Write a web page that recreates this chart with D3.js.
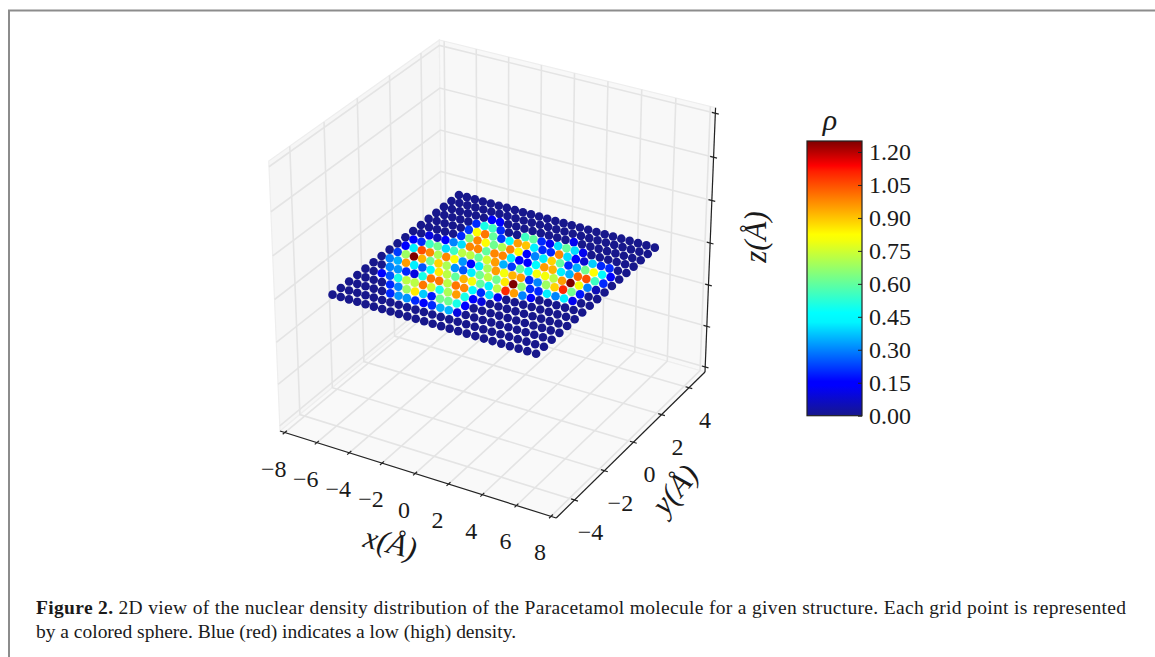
<!DOCTYPE html>
<html>
<head>
<meta charset="utf-8">
<script src="https://cdn.jsdelivr.net/npm/d3@7"></script>
<style>
body { margin: 0; background: #fff; }
svg { display: block; }
text { font-family: "Liberation Serif", serif; fill: #1a1a1a; }
</style>
</head>
<body>
<svg id="chart" width="1155" height="657"></svg>
<script>
// Chart data
var xGrid = [-6,-5.5,-5,-4.5,-4,-3.5,-3,-2.5,-2,-1.5,-1,-0.5,0,0.5,1,1.5,2,2.5,3,3.5,4,4.5,5,5.5,6];
var yGrid = [4,3.5,3,2.5,2,1.5,1,0.5,0,-0.5,-1,-1.5,-2,-2.5,-3,-3.5,-4];
var rho = [
	[0,0,0,0,0,0,0,0,0,0,0,0,0,0,0,0,0,0,0,0,0,0,0,0,0],
	[0,0,0,0,0,0,0,0,0,0,0,0,0,0,0,0,0,0,0,0,0,0,0,0,0],
	[0,0,0,0,0,0,.15,.15,0,0,0,0,0,0,0,0,.12,0,0,0,0,0,0,0,0],
	[0,0,0,0,0,.2,.5,.55,.2,0,0,.55,.6,.2,.12,.4,.6,.4,.12,0,0,0,0,0,0],
	[0,0,0,0,0,.22,.82,1,.6,.22,.45,.95,.9,.42,.2,.2,.98,.4,.15,.08,.38,.2,.2,0,0],
	[0,0,0,0,0,.2,.65,.98,.82,.62,.7,.98,.82,.15,.3,.42,.88,.6,.2,.35,.62,.82,.45,.15,0],
	[0,0,.1,.05,.15,.3,.4,.98,.98,.6,.98,.98,.42,.15,.15,.45,.95,.92,.42,.35,1.02,1.05,.55,.2,0],
	[0,.15,.2,.55,.62,.4,.55,.72,.72,.6,.75,.95,.35,.22,.6,.42,.8,.8,.72,.95,1.25,.8,.3,.05,0],
	[0,.15,.42,1.05,.98,.7,.98,.82,.32,.15,.42,.7,.95,.8,.92,.95,.2,.3,.68,.88,1.1,.62,.18,0,0],
	[0,.22,.68,1.25,.92,.62,.88,.7,.32,.25,.42,.62,.72,.62,.85,1.25,.65,.2,.2,.42,.3,.42,.12,0,0],
	[0,.3,.35,.95,.42,.25,.45,.85,.72,.6,.92,.8,.6,.42,.72,1.1,.95,.3,.15,0,0,0,0,0,0],
	[0,0,.3,.32,.2,.1,.5,1,1,.72,1,.98,.45,.2,.4,.12,0,0,0,0,0,0,0,0,0],
	[0,0,.15,.25,.5,.72,.72,1,.75,.5,.7,.95,.5,.15,.1,0,0,0,0,0,0,0,0,0,0],
	[0,0,0,0,.2,.3,.68,.85,.38,.18,.62,.62,.5,.15,0,0,0,0,0,0,0,0,0,0,0],
	[0,0,0,0,0,.2,.32,.32,.2,.15,.2,.35,.35,.1,0,0,0,0,0,0,0,0,0,0,0],
	[0,0,0,0,0,0,0,0,0,0,0,0,0,0,0,0,0,0,0,0,0,0,0,0,0],
	[0,0,0,0,0,0,0,0,0,0,0,0,0,0,0,0,0,0,0,0,0,0,0,0,0]
];
var xTicks = [-8,-6,-4,-2,0,2,4,6,8];
var yTicks = [-4,-2,0,2,4];
var zTicks = [-0.06,-0.04,-0.02,0,0.02,0.04,0.06];
var rhoTicks = [0,0.15,0.30,0.45,0.60,0.75,0.90,1.05,1.20];
var caption1 = " 2D view of the nuclear density distribution of the Paracetamol molecule for a given structure. Each grid point is represented";
var caption2 = "by a colored sphere. Blue (red) indicates a low (high) density.";

var svg = d3.select("#chart");
var gridColor = "#e4e4e4";
var axisColor = "#222";

// Data to unit cube
var xLim = [-8.3, 8.3], yLim = [-5.2, 5.2], zLim = [-0.0625, 0.0625];
var ux = d3.scaleLinear().domain(xLim).range([-0.5, 0.5]),
	uy = d3.scaleLinear().domain(yLim).range([-0.5, 0.5]),
	uz = d3.scaleLinear().domain(zLim).range([-0.5, 0.5]);

// Camera of a default 3D axes: elev 30, azim -60, distance 10
var elev = 30 * Math.PI / 180, azim = -60 * Math.PI / 180, dist = 10;
var camN = [Math.cos(elev) * Math.cos(azim), Math.cos(elev) * Math.sin(azim), Math.sin(elev)];
var camU = [-Math.sin(azim), Math.cos(azim), 0];
var camV = [camN[1] * camU[2] - camN[2] * camU[1], camN[2] * camU[0] - camN[0] * camU[2], camN[0] * camU[1] - camN[1] * camU[0]];
var dot = (a, b) => a[0] * b[0] + a[1] * b[1] + a[2] * b[2];

var view = (x, y, z) => {
	let p = [ux(x), uy(y), uz(z)];
	let d = dist - dot(camN, p);
	return { h: dot(camU, p) / d, v: dot(camV, p) / d, depth: d };
};

// View plane to screen, fixed on the box corners
var screenX = d3.scaleLinear()
	.domain([view(xLim[0], yLim[0], zLim[0]).h, view(xLim[1], yLim[1], zLim[0]).h])
	.range([280, 705]);
var screenY = d3.scaleLinear()
	.domain([view(xLim[1], yLim[0], zLim[0]).v, view(xLim[0], yLim[1], zLim[1]).v])
	.range([518, 40]);

var project = (x, y, z) => {
	let p = view(x, y, z);
	return [screenX(p.h), screenY(p.v)];
};
var path3d = (pts) => "M" + pts.map(p => project(p[0], p[1], p[2]).join(",")).join("L");

// Panes
var x0 = xLim[0], x1 = xLim[1], y0 = yLim[0], y1 = yLim[1], z0 = zLim[0], z1 = zLim[1];
var panes = [
	{ fill: "#f6f6f6", pts: [[x0, y0, z0], [x0, y1, z0], [x0, y1, z1], [x0, y0, z1]] },
	{ fill: "#f8f8f8", pts: [[x0, y1, z0], [x1, y1, z0], [x1, y1, z1], [x0, y1, z1]] },
	{ fill: "#f9f9f9", pts: [[x0, y0, z0], [x1, y0, z0], [x1, y1, z0], [x0, y1, z0]] }
];
svg.selectAll(".pane")
	.data(panes)
	.enter()
	.append("path")
	.attr("class", "pane")
	.attr("d", d => path3d(d.pts) + "Z")
	.attr("fill", d => d.fill)
	.attr("stroke", "#eeeeee")
	.attr("stroke-width", 1.2);

// Grid lines
var gridLines = [];
xTicks.forEach(t => {
	gridLines.push([[t, y0, z0], [t, y1, z0], [t, y1, z1]]);
});
yTicks.forEach(t => {
	gridLines.push([[x1, t, z0], [x0, t, z0], [x0, t, z1]]);
});
zTicks.forEach(t => {
	gridLines.push([[x0, y0, t], [x0, y1, t], [x1, y1, t]]);
});
svg.selectAll(".grid")
	.data(gridLines)
	.enter()
	.append("path")
	.attr("class", "grid")
	.attr("d", path3d)
	.attr("fill", "none")
	.attr("stroke", gridColor)
	.attr("stroke-width", 1.6);

// Axis lines and tick marks
var axisLines = [
	[[x0, y0, z0], [x1, y0, z0]],
	[[x1, y0, z0], [x1, y1, z0]],
	[[x1, y1, z0], [x1, y1, z1]]
];
var dy = (y1 - y0) * 0.012, dx = (x1 - x0) * 0.012;
xTicks.forEach(t => axisLines.push([[t, y0 - dy, z0], [t, y0 + dy, z0]]));
yTicks.forEach(t => axisLines.push([[x1 + dx, t, z0], [x1 - dx, t, z0]]));
zTicks.forEach(t => axisLines.push([[x1 + dx, y1, t], [x1 - dx, y1, t]]));
svg.selectAll(".axisline")
	.data(axisLines)
	.enter()
	.append("path")
	.attr("class", "axisline")
	.attr("d", path3d)
	.attr("fill", "none")
	.attr("stroke", axisColor)
	.attr("stroke-width", 1.2);

// Tick labels
var fmtTick = (t) => (t < 0 ? "\u2212" : "") + Math.abs(t);
svg.selectAll(".xlabel")
	.data(xTicks)
	.enter()
	.append("text")
	.attr("class", "xlabel")
	.attr("x", d => project(d, y0, z0)[0] - 11)
	.attr("y", d => project(d, y0, z0)[1] + 44)
	.attr("text-anchor", "middle")
	.attr("font-size", 24)
	.text(fmtTick);
svg.selectAll(".ylabel")
	.data(yTicks)
	.enter()
	.append("text")
	.attr("class", "ylabel")
	.attr("x", d => project(x1, d, z0)[0] + 16)
	.attr("y", d => project(x1, d, z0)[1] + 40)
	.attr("text-anchor", "middle")
	.attr("font-size", 24)
	.text(fmtTick);

// Axis titles
var axisTitles = [
	{ t: "x(\u00c5)", x: 388, y: 553, r: 14 },
	{ t: "y(\u00c5)", x: 683, y: 496, r: -50 },
	{ t: "z(\u00c5)", x: 766, y: 237, r: -90 }
];
svg.selectAll(".title3d")
	.data(axisTitles)
	.enter()
	.append("text")
	.attr("class", "title3d")
	.attr("transform", d => "translate(" + d.x + "," + d.y + ") rotate(" + d.r + ")")
	.attr("text-anchor", "middle")
	.attr("font-size", 31)
	.attr("font-style", "italic")
	.text(d => d.t);

// Colormap
var rhoMax = 1.25;
var jetStops = [
	[0, "#17178c"], [0.11, "#0000ff"], [0.125, "#0000ff"], [0.34, "#00f5ff"], [0.375, "#00ffff"],
	[0.64, "#f5ff0a"], [0.66, "#ffff00"], [0.89, "#ff1e00"], [0.91, "#ff0000"], [1, "#7f0000"]
];
var color = d3.scaleLinear()
	.domain(jetStops.map(d => d[0] * rhoMax))
	.range(jetStops.map(d => d[1]))
	.clamp(true);

// Grid points, far ones first
var points = [];
rho.forEach((row, j) => row.forEach((v, i) => {
	let p = view(xGrid[i], yGrid[j], 0);
	points.push({ x: xGrid[i], y: yGrid[j], value: v, depth: p.depth });
}));
points.sort((a, b) => d3.descending(a.depth, b.depth));
svg.selectAll(".gridpoint")
	.data(points)
	.enter()
	.append("circle")
	.attr("class", "gridpoint")
	.attr("cx", d => project(d.x, d.y, 0)[0])
	.attr("cy", d => project(d.x, d.y, 0)[1])
	.attr("r", 4.3)
	.attr("fill", d => color(d.value));

// Colorbar
var barScale = d3.scaleLinear().domain([0, rhoMax]).range([415.7, 141]);
var grad = svg.append("defs").append("linearGradient")
	.attr("id", "jet")
	.attr("x1", 0).attr("y1", 1).attr("x2", 0).attr("y2", 0);
grad.selectAll("stop")
	.data(jetStops)
	.enter()
	.append("stop")
	.attr("offset", d => d[0])
	.attr("stop-color", d => d[1]);
svg.append("rect")
	.attr("x", 807)
	.attr("y", barScale(rhoMax))
	.attr("width", 55)
	.attr("height", barScale(0) - barScale(rhoMax))
	.attr("fill", "url(#jet)")
	.attr("stroke", "#222")
	.attr("stroke-width", 1.2);
var barAxis = svg.append("g")
	.attr("transform", "translate(862,0)")
	.call(d3.axisRight(barScale).tickValues(rhoTicks).tickFormat(d3.format(".2f")).tickSize(-4).tickPadding(7));
barAxis.select(".domain").remove();
barAxis.selectAll("line").attr("stroke", "#222");
barAxis.selectAll("text")
	.attr("font-size", 24)
	.attr("font-family", "Liberation Serif")
	.attr("fill", "#1a1a1a");
svg.append("text")
	.attr("x", 830)
	.attr("y", 130)
	.attr("text-anchor", "middle")
	.attr("font-size", 30)
	.attr("font-style", "italic")
	.text("\u03c1");

// Frame and caption
svg.append("path")
	.attr("d", "M9,657V10.5H1155")
	.attr("fill", "none")
	.attr("stroke", "#8c8c8c")
	.attr("stroke-width", 2);
var line1 = svg.append("text")
	.attr("x", 36)
	.attr("y", 613.5)
	.attr("font-size", 19.5)
	.attr("textLength", 1090);
line1.append("tspan").attr("font-weight", "bold").text("Figure 2.");
line1.append("tspan").text(caption1);
svg.append("text")
	.attr("x", 36)
	.attr("y", 638)
	.attr("font-size", 19.5)
	.attr("textLength", 480)
	.text(caption2);
</script>
</body>
</html>
